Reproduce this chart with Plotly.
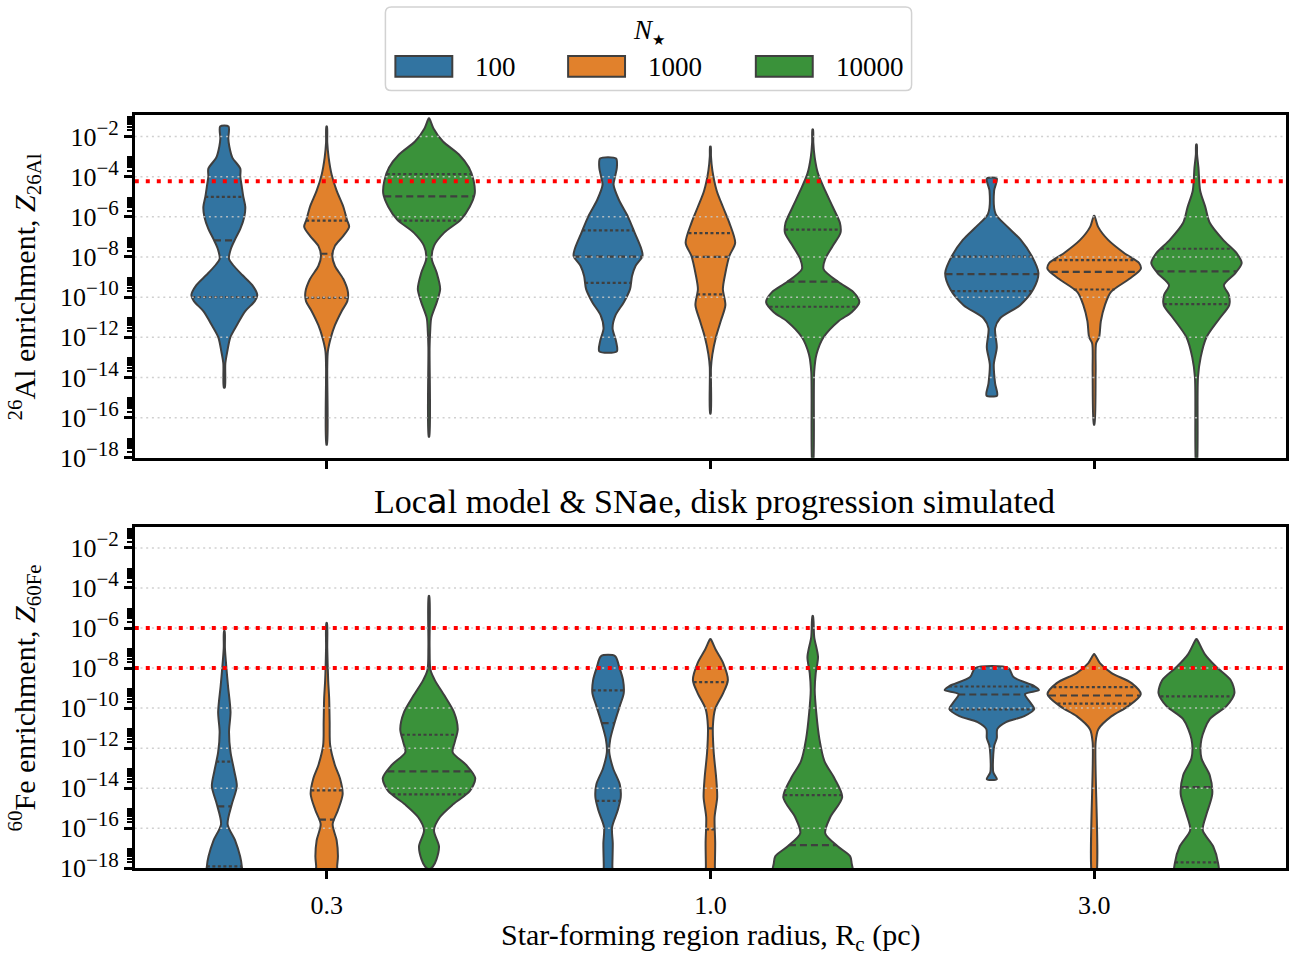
import numpy as np
import plotly.graph_objects as go

# ---------------- data (log10 of enrichment; densities in arbitrary KDE units) -------------
RADII = ["0.3", "1.0", "3.0"]
NSTARS = ["100", "1000", "10000"]

# 26Al panel
al_03_100_logz = [-14.5, -13.3, -12.7, -12.0, -11.4, -10.7, -10.2, -9.9, -9.4, -8.9, -8.4, -8.1, -7.6, -7.1, -6.6, -6.0, -5.5, -5.0, -4.5, -4.0, -3.6, -3.05, -2.5, -2.1, -1.5]
al_03_100_dens = [0.5, 1.0, 3, 6, 12.5, 21, 30.5, 33, 28, 18, 8.7, 4.7, 6.5, 11, 16, 20, 21, 19, 17.5, 16, 16, 8, 5, 4, 4.2]
al_03_100_quart = [-10.0, -7.17, -5.01]

al_03_1000_logz = [-17.35, -13.5, -12.7, -12.0, -11.4, -10.7, -10.2, -9.75, -9.1, -8.45, -7.95, -7.45, -6.95, -6.5, -6.15, -5.5, -4.7, -3.9, -3.05, -2.3, -1.5]
al_03_1000_dens = [0.3, 0.6, 1.2, 4.3, 8.3, 15, 20.7, 21.3, 16.7, 8.3, 5.7, 8.3, 16.7, 22.5, 20.3, 16.7, 10, 5, 2, 0.6, 0.3]
al_03_1000_quart = [-10.03, -7.84, -6.19]

al_03_10000_logz = [-16.95, -12.5, -11.7, -11.05, -10.25, -9.6, -8.8, -8.1, -7.45, -6.8, -6.15, -5.5, -4.85, -4.2, -3.55, -2.9, -2.25, -1.6, -1.1]
al_03_10000_dens = [0.3, 0.6, 1.2, 2.2, 7.8, 11.2, 7.8, 2.8, 5, 15, 31.7, 40.8, 45.8, 44.7, 40, 30, 14, 4.5, 0.3]
al_03_10000_quart = [-6.19, -4.98, -3.87]

al_10_100_logz = [-12.7, -12.2, -11.55, -10.9, -10.25, -9.6, -8.95, -8.45, -7.95, -7.6, -6.8, -6.0, -5.15, -4.4, -4.0, -3.55, -3.1]
al_10_100_dens = [8.8, 8, 4.5, 7.5, 15.8, 22, 24, 27.5, 34.5, 33.3, 26.7, 20, 10.8, 5.5, 7, 8.8, 8]
al_10_100_quart = [-9.29, -7.98, -6.68]

al_10_1000_logz = [-15.8, -13.5, -12.85, -12.0, -11.2, -10.4, -9.6, -8.8, -7.95, -7.3, -6.3, -5.5, -4.7, -3.7, -3.0, -2.5]
al_10_1000_dens = [0.3, 0.6, 2, 5.5, 10.3, 15, 12.5, 15, 19, 24.8, 19, 12.5, 6.3, 2, 0.6, 0.3]
al_10_1000_quart = [-9.86, -8.0, -6.81]

al_10_10000_logz = [-18.5, -13.7, -12.85, -12.0, -11.2, -10.75, -10.25, -9.75, -9.25, -8.6, -8.1, -7.45, -6.8, -6.3, -5.5, -4.7, -3.85, -3.05, -2.3, -1.65]
al_10_10000_dens = [0.3, 1.5, 3.8, 10.8, 25.8, 39, 46.7, 40.8, 25.8, 10.8, 12.5, 20, 27.8, 27.2, 20, 12.5, 5.3, 2, 0.6, 0.3]
al_10_10000_quart = [-10.48, -9.23, -6.64]

al_30_100_logz = [-14.9, -14.3, -13.35, -12.5, -11.55, -11.05, -10.4, -9.6, -8.8, -7.95, -7.15, -6.5, -5.85, -4.7, -4.1]
al_30_100_dens = [5.3, 3.3, 2, 5, 3.3, 8.3, 28.3, 41.7, 46.7, 40, 29, 15.8, 3.8, 2.3, 5]
al_30_100_quart = [-9.7, -8.85, -7.98]

al_30_1000_logz = [-16.35, -13.7, -12.3, -12.0, -11.2, -10.4, -9.75, -9.1, -8.6, -8.3, -7.8, -7.15, -6.5, -5.95]
al_30_1000_dens = [0.3, 1.5, 2, 5, 6.7, 10.8, 16.7, 35, 46.7, 45, 30, 14, 4, 0.3]
al_30_1000_quart = [-9.62, -8.74, -8.16]

al_30_10000_logz = [-18.5, -14.0, -13.0, -12.0, -11.05, -10.4, -9.9, -9.4, -8.8, -8.3, -7.8, -7.15, -6.3, -5.5, -4.7, -3.55, -2.9, -2.4]
al_30_10000_dens = [0.3, 1.5, 4.2, 10, 23.3, 32.8, 32.5, 27.5, 39, 45.3, 40, 26.7, 13.3, 8.8, 3.7, 2, 0.6, 0.3]
al_30_10000_quart = [-10.35, -8.72, -7.59]

# 60Fe panel
fe_03_100_logz = [-18.5, -17.9, -17.4, -16.6, -15.8, -14.8, -13.9, -13.15, -12.2, -11.2, -10.2, -8.9, -7.95, -7.0, -6.15]
fe_03_100_dens = [17.5, 17.5, 15.8, 10.8, 3.3, 7.5, 12.5, 10, 6.2, 4.7, 6.2, 3.7, 2, 0.6, 0.3]
fe_03_100_quart = [-17.9, -14.91, -12.67]

fe_03_1000_logz = [-18.5, -17.9, -17.4, -16.6, -15.8, -15.1, -14.3, -13.5, -12.85, -11.85, -10.7, -9.5, -8.6, -7.0, -5.75]
fe_03_1000_dens = [10.5, 10.5, 11.3, 10, 6, 11.3, 16, 13.3, 8.3, 3.5, 3, 2.5, 1.5, 0.6, 0.3]
fe_03_1000_quart = [-18.6, -15.57, -14.11]

fe_03_10000_logz = [-18.1, -17.9, -17.55, -16.9, -16.1, -15.45, -14.8, -14.15, -13.5, -12.85, -12.2, -11.7, -11.05, -10.2, -9.4, -8.6, -8.1, -6.95, -4.4]
fe_03_10000_dens = [0, 4, 7.5, 10, 5, 10.8, 24.2, 40.8, 46.3, 37.5, 23.7, 25.8, 28.8, 25, 15.8, 5.8, 1.5, 0.6, 0.3]
fe_03_10000_quart = [-14.31, -13.16, -11.33]

fe_10_100_logz = [-18.5, -17.9, -16.75, -15.95, -15.1, -14.45, -13.8, -13.0, -12.2, -11.55, -10.7, -9.9, -9.25, -8.6, -7.95, -7.4]
fe_10_100_dens = [4.3, 4.3, 4.7, 4, 9.7, 12.7, 11.7, 5, 1.2, 2.2, 6.7, 11.7, 15.7, 15, 11.2, 7]
fe_10_100_quart = [-14.63, -10.75, -9.11]

fe_10_1000_logz = [-18.5, -17.9, -16.75, -15.45, -14.45, -13.5, -12.2, -10.9, -10.05, -9.25, -8.6, -7.75, -7.1, -6.55]
fe_10_1000_dens = [4.5, 4.5, 4.8, 4.2, 6.8, 5.8, 3.3, 2.5, 4.7, 12.8, 17.5, 12.8, 5.5, 0.3]
fe_10_1000_quart = [-16.06, -11.01, -8.7]

fe_10_10000_logz = [-18.5, -17.75, -17.4, -16.9, -16.25, -15.45, -14.45, -13.5, -12.65, -11.55, -10.2, -9.1, -8.25, -7.45, -6.45, -5.4]
fe_10_10000_dens = [40, 39, 37.5, 25, 12.5, 17.5, 29.5, 21.7, 11.7, 6.7, 3.5, 2, 3, 5.3, 1.5, 0.3]
fe_10_10000_quart = [-18.6, -16.84, -14.34]

fe_30_100_logz = [-13.55, -13.2, -12.3, -11.85, -11.5, -11.05, -10.7, -10.4, -10.05, -9.75, -9.3, -9.1, -8.9, -8.45, -8.0]
fe_30_100_dens = [5, 1.5, 1.5, 2.5, 5, 5.5, 14.2, 32.5, 42.5, 39, 33.3, 47.2, 42.5, 21.7, 16.7]
fe_30_100_quart = [-10.06, -9.32, -8.92]

fe_30_1000_logz = [-18.5, -11.7, -11.05, -10.4, -9.9, -9.3, -8.75, -8.25, -7.75, -7.3]
fe_30_1000_dens = [1.5, 1.5, 4.2, 17.5, 34.2, 46.7, 37.5, 17.5, 5.8, 0.3]
fe_30_1000_quart = [-9.78, -9.37, -8.95]

fe_30_10000_logz = [-18.5, -17.75, -16.9, -16.1, -15.3, -14.3, -13.35, -12.5, -11.55, -10.55, -9.9, -9.25, -8.6, -7.95, -7.3, -6.55]
fe_30_10000_dens = [21.7, 21.7, 16.7, 6.3, 10, 15.8, 13.3, 5, 5, 13.3, 30, 38, 34.2, 20, 8.3, 0.3]
fe_30_10000_quart = [-17.7, -13.95, -9.41]

AL_REFERENCE = [5.85e-5]
FE_REFERENCE = [1e-6, 1e-8]

YTICK_VALS = [1e-18, 1e-16, 1e-14, 1e-12, 1e-10, 1e-8, 1e-6, 1e-4, 1e-2]
YTICK_EXP = ["\u221218", "\u221216", "\u221214", "\u221212", "\u221210", "\u22128", "\u22126", "\u22124", "\u22122"]

# ---------------- assembly ----------------
AL = [
    [(al_03_100_logz, al_03_100_dens, al_03_100_quart), (al_03_1000_logz, al_03_1000_dens, al_03_1000_quart), (al_03_10000_logz, al_03_10000_dens, al_03_10000_quart)],
    [(al_10_100_logz, al_10_100_dens, al_10_100_quart), (al_10_1000_logz, al_10_1000_dens, al_10_1000_quart), (al_10_10000_logz, al_10_10000_dens, al_10_10000_quart)],
    [(al_30_100_logz, al_30_100_dens, al_30_100_quart), (al_30_1000_logz, al_30_1000_dens, al_30_1000_quart), (al_30_10000_logz, al_30_10000_dens, al_30_10000_quart)],
]
FE = [
    [(fe_03_100_logz, fe_03_100_dens, fe_03_100_quart), (fe_03_1000_logz, fe_03_1000_dens, fe_03_1000_quart), (fe_03_10000_logz, fe_03_10000_dens, fe_03_10000_quart)],
    [(fe_10_100_logz, fe_10_100_dens, fe_10_100_quart), (fe_10_1000_logz, fe_10_1000_dens, fe_10_1000_quart), (fe_10_10000_logz, fe_10_10000_dens, fe_10_10000_quart)],
    [(fe_30_100_logz, fe_30_100_dens, fe_30_100_quart), (fe_30_1000_logz, fe_30_1000_dens, fe_30_1000_quart), (fe_30_10000_logz, fe_30_10000_dens, fe_30_10000_quart)],
]

COLORS = ["#3274a1", "#e1812c", "#3a923a"]
EDGE = "#3f3f3f"
FONT = "Liberation Serif"
W, H = 1289, 967
AX_L, AX_R = 135, 1288
TOP_T, TOP_B = 117, 465
BOT_T, BOT_B = 535, 882
YRANGE = [-18, -0.94]
HUE_STEP = 0.8 / 3
HALF_MAX = 0.1228

def px(x):
    return x / W

def py(y):
    return 1 - y / H

DMAX = max(max(d) for panel in (AL, FE) for grp in panel for (_, d, _) in grp)
YTICK_TEXT = [f"10<sup><span style='font-size:21px'>{e}</span></sup>" for e in YTICK_EXP]

fig = go.Figure()

def add_panel(panel, xa, ya, refs):
    for gi, grp in enumerate(panel):
        for hi, (logz, dens, quart) in enumerate(grp):
            c = gi + (hi - 1) * HUE_STEP
            lz = np.array(logz, dtype=float)
            w = np.array(dens, dtype=float) / DMAX * HALF_MAX
            xs = np.concatenate([c + w, (c - w)[::-1], [c + w[0]]])
            ys = 10 ** np.concatenate([lz, lz[::-1], [lz[0]]])
            fig.add_trace(go.Scatter(
                x=xs, y=ys, xaxis=xa, yaxis=ya, mode="lines", fill="toself",
                fillcolor=COLORS[hi], line=dict(color=EDGE, width=2, shape="spline", smoothing=0.8),
                name=NSTARS[hi], showlegend=False, hoverinfo="skip"))
            for k, qv in enumerate(quart):
                wq = float(np.interp(qv, lz, w))
                fig.add_trace(go.Scatter(
                    x=[c - wq, c + wq], y=[10 ** qv] * 2, xaxis=xa, yaxis=ya, mode="lines",
                    line=dict(color=EDGE, width=2.2, dash="7px,4px" if k == 1 else "3px,2.5px"),
                    showlegend=False, hoverinfo="skip"))
    # grid lines drawn above the violins
    for v in YTICK_VALS[1:]:
        fig.add_trace(go.Scatter(
            x=[-0.5, 2.5], y=[v, v], xaxis=xa, yaxis=ya, mode="lines",
            line=dict(color="rgba(200,200,200,0.85)", width=1.5, dash="2px,3.7px"),
            showlegend=False, hoverinfo="skip"))
    for r in refs:
        fig.add_trace(go.Scatter(
            x=[-0.5, 2.5], y=[r, r], xaxis=xa, yaxis=ya, mode="lines",
            line=dict(color="#ff0000", width=4, dash="4px,7px"),
            showlegend=False, hoverinfo="skip"))

add_panel(AL, "x2", "y2", AL_REFERENCE)
add_panel(FE, "x", "y", FE_REFERENCE)

MINOR_VALS = [m * v for v in YTICK_VALS for m in range(2, 10)]

yax = dict(type="log", range=YRANGE, tickmode="array", tickvals=YTICK_VALS, ticktext=YTICK_TEXT,
           ticks="outside", ticklen=8, tickwidth=2.5, tickcolor="black",
           showline=True, linewidth=2.5, linecolor="black", mirror=True,
           showgrid=False, zeroline=False, layer="above traces",
           tickfont=dict(family=FONT, size=26, color="black"),
           minor=dict(tickmode="array", tickvals=MINOR_VALS, ticks="outside", ticklen=5,
                      tickwidth=2, tickcolor="black", showgrid=False))
xax = dict(range=[-0.5, 2.5], tickmode="array", tickvals=[0, 1, 2], ticktext=RADII,
           ticks="outside", ticklen=8, tickwidth=2.5, tickcolor="black",
           showline=True, linewidth=2.5, linecolor="black", mirror=True,
           showgrid=False, zeroline=False, layer="above traces",
           tickfont=dict(family=FONT, size=26, color="black"))

fig.update_layout(
    width=W, height=H, margin=dict(l=0, r=0, t=0, b=0),
    paper_bgcolor="white", plot_bgcolor="white", showlegend=False,
    xaxis=dict(xax, domain=[px(AX_L), px(AX_R)], anchor="y", ticklabelstandoff=4),
    yaxis=dict(yax, domain=[py(BOT_B), py(BOT_T)], anchor="x"),
    xaxis2=dict(xax, domain=[px(AX_L), px(AX_R)], anchor="y2", showticklabels=False),
    yaxis2=dict(yax, domain=[py(TOP_B), py(TOP_T)], anchor="x2"),
)

annots = [
    dict(text="<sup>26</sup>Al enrichment, <i>Z</i><sub>26Al</sub>", x=px(25), y=py((TOP_T + TOP_B) / 2),
         textangle=-90, font=dict(size=30)),
    dict(text="<sup>60</sup>Fe enrichment, <i>Z</i><sub>60Fe</sub>", x=px(25), y=py((BOT_T + BOT_B) / 2),
         textangle=-90, font=dict(size=30)),
    dict(text="Star-forming region radius, R<sub>c</sub> (pc)", x=px((AX_L + AX_R) / 2), y=py(952),
         height=32, valign="middle", font=dict(size=30)),
    dict(text="Loc<span style='font-family:DejaVu Sans'>a</span>l model &amp; SN<span style='font-family:DejaVu Sans'>a</span>e, disk progression simulated",
         x=px(716), y=py(509), font=dict(size=34)),
    dict(text="<i>N</i><sub><span style='font-size:15px'>\u2605</span></sub>", x=px(650), y=py(32), font=dict(size=27)),
]

# legend (drawn by hand to mimic matplotlib's wide patches)
LEG_X = [396, 569, 757]
shapes = []
bx0, bx1, by0, by1, rr = 386, 913, 7, 92, 6
path = (f"M{px(bx0 + rr)},{py(by0)} L{px(bx1 - rr)},{py(by0)} Q{px(bx1)},{py(by0)} {px(bx1)},{py(by0 + rr)} "
        f"L{px(bx1)},{py(by1 - rr)} Q{px(bx1)},{py(by1)} {px(bx1 - rr)},{py(by1)} "
        f"L{px(bx0 + rr)},{py(by1)} Q{px(bx0)},{py(by1)} {px(bx0)},{py(by1 - rr)} "
        f"L{px(bx0)},{py(by0 + rr)} Q{px(bx0)},{py(by0)} {px(bx0 + rr)},{py(by0)} Z")
shapes.append(dict(type="path", xref="paper", yref="paper", path=path,
                   line=dict(color="#d2d2d2", width=1.5), fillcolor="white"))
for i, lab in enumerate(NSTARS):
    x0 = LEG_X[i]
    shapes.append(dict(type="rect", xref="paper", yref="paper", x0=px(x0), x1=px(x0 + 57),
                       y0=py(78), y1=py(57), fillcolor=COLORS[i], line=dict(color=EDGE, width=2)))
    annots.append(dict(text=lab, x=px(x0 + 78), y=py(68), xanchor="left", font=dict(size=27)))

for a in annots:
    a.setdefault("xref", "paper")
    a.setdefault("yref", "paper")
    a.setdefault("showarrow", False)
    a.setdefault("xanchor", "center")
    a.setdefault("yanchor", "middle")
    a["font"] = dict(family=FONT, color="black", **a["font"])

fig.update_layout(annotations=annots, shapes=shapes)
fig.write_html("out.html")
